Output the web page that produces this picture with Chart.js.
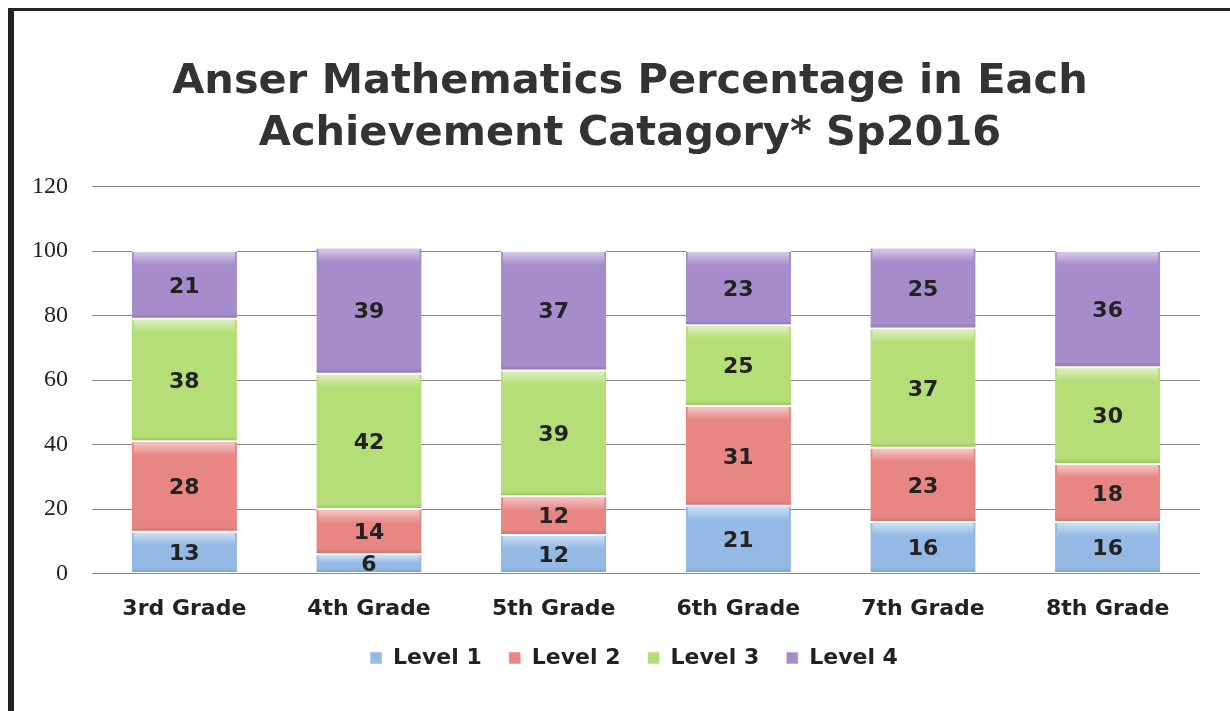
<!DOCTYPE html>
<html>
<head>
<meta charset="utf-8">
<script src="https://cdn.jsdelivr.net/npm/chart.js@4"></script>
<style>
  html, body { margin: 0; padding: 0; background: #fff; }
  #wrap { position: relative; width: 1230px; height: 711px; overflow: hidden; }
  #frame { position: absolute; left: 8px; top: 8px; width: 1240px; height: 720px;
           border-left: 6px solid #222; border-top: 3px solid #222; pointer-events: none; }
  canvas { position: absolute; left: 0; top: 0; }
</style>
</head>
<body>
<div id="wrap">
  <canvas id="barChart" width="1230" height="711"></canvas>
  <div id="frame"></div>
</div>
<script>
const grades = ['3rd Grade', '4th Grade', '5th Grade', '6th Grade', '7th Grade', '8th Grade'];
const level1 = [13, 6, 12, 21, 16, 16];
const level2 = [28, 14, 12, 31, 23, 18];
const level3 = [38, 42, 39, 25, 37, 30];
const level4 = [21, 39, 37, 23, 25, 36];
const yTicks = [0, 20, 40, 60, 80, 100, 120];

const labelFont = '"DejaVu Sans", sans-serif';

// title and legend sit a bit right of the canvas centre in the original
const centreShift = {
    id: 'centreShift',
    afterLayout(chart) {
        if (chart.titleBlock) chart.titleBlock.left += 52;
        if (chart.legend) chart.legend.left += 60;
    }
};

// light sheen at the top of each segment, then the value in the middle
const valueLabels = {
    id: 'valueLabels',
    afterDatasetsDraw(chart) {
        const ctx = chart.ctx;
        ctx.save();
        chart.data.datasets.forEach((ds, i) => {
            chart.getDatasetMeta(i).data.forEach(bar => {
                const left = bar.x - bar.width / 2;
                const h = bar.base - bar.y;
                const g = ctx.createLinearGradient(0, bar.y + 1, 0, bar.y + Math.min(14, h / 2));
                g.addColorStop(0, 'rgba(255,255,255,0.55)');
                g.addColorStop(1, 'rgba(255,255,255,0)');
                ctx.fillStyle = g;
                ctx.fillRect(left + 2, bar.y + 1, bar.width - 4, Math.min(14, h / 2));
                const s = ctx.createLinearGradient(0, bar.base - 5, 0, bar.base);
                s.addColorStop(0, 'rgba(0,0,0,0)');
                s.addColorStop(1, 'rgba(0,0,0,0.15)');
                ctx.fillStyle = s;
                ctx.fillRect(left, bar.base - 5, bar.width, 4);
            });
        });
        ctx.font = 'bold 22px ' + labelFont;
        ctx.fillStyle = '#222';
        ctx.textAlign = 'center';
        ctx.textBaseline = 'middle';
        chart.data.datasets.forEach((ds, i) => {
            chart.getDatasetMeta(i).data.forEach((bar, j) => {
                const mid = (bar.y + bar.base) / 2;
                ctx.fillText(ds.data[j], bar.x, mid + 2);
            });
        });
        ctx.restore();
    }
};

const el = document.getElementById('barChart');
new Chart(el, {
    type: 'bar',
    data: {
        labels: grades,
        datasets: [
            { label: 'Level 1', data: level1, backgroundColor: '#93b9e4' },
            { label: 'Level 2', data: level2, backgroundColor: '#e88683' },
            { label: 'Level 3', data: level3, backgroundColor: '#b5de76' },
            { label: 'Level 4', data: level4, backgroundColor: '#a68ccb' }
        ].map(d => Object.assign(d, {
            borderColor: '#fff',
            borderWidth: { top: 1, bottom: 1, left: 0, right: 0 },
            borderSkipped: false,
            categoryPercentage: 0.57,
            barPercentage: 1
        }))
    },
    options: {
        responsive: false,
        animation: false,
        layout: { padding: { left: 8, right: 30, top: 56, bottom: 32 } },
        plugins: {
            title: {
                display: true,
                text: ['Anser Mathematics Percentage in Each', 'Achievement Catagory* Sp2016'],
                font: { family: labelFont, size: 41.5, weight: 'bold', lineHeight: 1.26 },
                color: '#333',
                padding: { top: 0, bottom: 26 }
            },
            legend: {
                position: 'bottom',
                labels: {
                    font: { family: labelFont, size: 22, weight: 'bold' },
                    color: '#222',
                    boxWidth: 12,
                    boxHeight: 12,
                    padding: 27
                }
            },
            tooltip: { enabled: false }
        },
        scales: {
            x: {
                stacked: true,
                grid: { display: false },
                border: { display: false },
                ticks: { font: { family: labelFont, size: 22, weight: 'bold' }, color: '#222', padding: 14 },
                afterFit: axis => { axis.height -= 16; }
            },
            y: {
                stacked: true,
                min: 0,
                max: 120,
                afterBuildTicks: axis => { axis.ticks = yTicks.map(v => ({ value: v })); },
                grid: { color: '#8a8a8a', drawTicks: false },
                border: { display: false },
                ticks: { font: { family: '"Liberation Serif", serif', size: 24 }, color: '#222', padding: 24 }
            }
        }
    },
    plugins: [centreShift, valueLabels]
});
</script>
</body>
</html>
